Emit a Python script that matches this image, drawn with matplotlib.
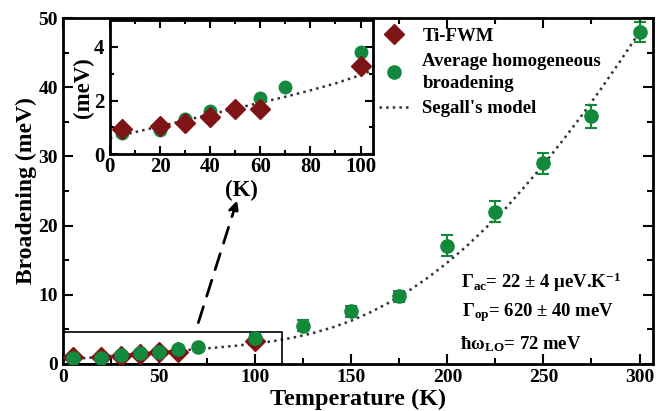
import numpy as np
import matplotlib
matplotlib.use("Agg")
import matplotlib.pyplot as plt
from matplotlib.patches import Rectangle
from matplotlib.lines import Line2D

plt.rcParams["font.family"] = ["Liberation Serif", "DejaVu Serif"]
plt.rcParams["font.weight"] = "bold"
plt.rcParams["mathtext.fontset"] = "custom"
plt.rcParams["mathtext.rm"] = "Liberation Serif:bold"
plt.rcParams["mathtext.it"] = "Liberation Serif:bold"
plt.rcParams["mathtext.bf"] = "Liberation Serif:bold"

# average homogeneous broadening (green)
temp_avg = [5, 20, 30, 40, 50, 60, 70, 100, 125, 150, 175, 200, 225, 250, 275, 300]
broad_avg = [0.8, 0.9, 1.3, 1.6, 1.7, 2.1, 2.5, 3.8, 5.5, 7.6, 9.8, 17.1, 22.0, 29.0, 35.8, 48.0]
err_avg = [0.3, 0.3, 0.3, 0.3, 0.3, 0.3, 0.3, 0.5, 0.8, 0.8, 0.8, 1.5, 1.5, 1.5, 1.7, 1.5]

# Ti-FWM (dark red)
temp_fwm = [5, 20, 30, 40, 50, 60, 100]
broad_fwm = [0.95, 1.05, 1.15, 1.4, 1.7, 1.7, 3.3]

# Segall's model curve
temp_model = [0, 10, 20, 30, 40, 50, 60, 70, 80, 90, 100, 110, 120, 130, 140, 150,
              160, 170, 180, 190, 200, 210, 220, 230, 240, 250, 260, 270, 280, 290, 300]
broad_model = [0.6, 0.82, 1.04, 1.26, 1.48, 1.70, 1.92, 2.14, 2.38, 2.64, 2.95, 3.33,
               3.83, 4.46, 5.27, 6.25, 7.48, 8.92, 10.59, 12.50, 14.66, 17.02, 19.67,
               22.40, 25.56, 28.8, 32.3, 35.94, 39.8, 43.8, 48.0]

green = "#13893e"
red = "#7f1416"
dots = "#333333"

fig = plt.figure(figsize=(6.58, 4.11), dpi=100)
ax = fig.add_axes([0.0957, 0.1144, 0.8967, 0.8416])

ax.plot(temp_model, broad_model, ":", color=dots, lw=1.8)
ax.plot(temp_fwm, broad_fwm, "D", color=red, ms=10, zorder=3)
ax.errorbar(temp_avg, broad_avg, yerr=err_avg, fmt="o", color=green, ms=9.5, capsize=4,
            elinewidth=1.5, capthick=1.5, zorder=4)

ax.set_xlim(0, 307)
ax.set_ylim(0, 50)
ax.set_xticks([0, 50, 100, 150, 200, 250, 300])
ax.set_xticks(np.arange(25, 307, 50), minor=True)
ax.set_yticks([0, 10, 20, 30, 40, 50])
ax.set_yticks(np.arange(5, 50, 10), minor=True)
ax.tick_params(direction="in", which="both", top=True, right=True, width=1.5, labelsize=14)
ax.tick_params(which="major", length=7)
ax.tick_params(which="minor", length=4)
for s in ax.spines.values():
    s.set_linewidth(2)
ax.set_xlabel("Temperature (K)", fontsize=17.5, fontweight="bold", labelpad=2)
ax.set_ylabel("Broadening (meV)", fontsize=17, fontweight="bold", labelpad=1)

handles = [Line2D([], [], ls="none", marker="D", color=red, ms=10),
           Line2D([], [], ls="none", marker="o", color=green, ms=9.5),
           Line2D([], [], ls=":", color=dots, lw=1.8)]
labels = ["Ti-FWM", "Average homogeneous\nbroadening", "Segall's model"]
leg = ax.legend(handles, labels, loc="upper left", bbox_to_anchor=(0.52, 1.0),
                frameon=False, handlelength=1.6, handletextpad=0.7, labelspacing=0.45,
                borderaxespad=0.1, prop={"weight": "bold", "size": 13.5})
for t in leg.get_texts():
    t.set_linespacing(1.35)

ax.add_patch(Rectangle((0, 0), 114, 4.6, fill=False, ec="black", lw=1.2, zorder=2))
ax.annotate("", xy=(91, 24), xytext=(70, 5.6),
            arrowprops=dict(arrowstyle="-|>", ls=(0, (6, 4)), lw=2, color="black",
                            mutation_scale=15))

ax.text(0.81, 0.235, r"$\Gamma_{ac}$= 22 ± 4 μeV.K$^{-1}$", transform=ax.transAxes,
        ha="center", va="center", fontsize=13.5, fontweight="bold")
ax.text(0.805, 0.148, r"$\Gamma_{op}$= 620 ± 40 meV", transform=ax.transAxes,
        ha="center", va="center", fontsize=13.5, fontweight="bold")
ax.text(0.775, 0.058, r"ħω$_{LO}$= 72 meV", transform=ax.transAxes,
        ha="center", va="center", fontsize=13.5, fontweight="bold")

# inset
ins = fig.add_axes([0.167, 0.625, 0.400, 0.326])
ins.plot(temp_model, broad_model, ":", color=dots, lw=1.8)
ins.plot(temp_avg, broad_avg, "o", color=green, ms=9)
ins.plot(temp_fwm, broad_fwm, "D", color=red, ms=10)
ins.set_xlim(0, 105)
ins.set_ylim(0, 5)
ins.set_xticks([0, 20, 40, 60, 80, 100])
ins.set_xticks(np.arange(10, 105, 20), minor=True)
ins.set_yticks([0, 2, 4])
ins.set_yticks([1, 3], minor=True)
ins.tick_params(direction="in", which="both", top=True, right=True, width=1.5,
                labelsize=15)
ins.tick_params(axis="x", pad=2)
ins.tick_params(axis="y", pad=4)
ins.tick_params(which="major", length=6)
ins.tick_params(which="minor", length=3)
for s in ins.spines.values():
    s.set_linewidth(2)
ins.set_xlabel("(K)", fontsize=16.5, fontweight="bold", labelpad=2)
ins.set_ylabel("(meV)", fontsize=16.5, fontweight="bold", labelpad=0)

fig.savefig("out.png", dpi=100)
